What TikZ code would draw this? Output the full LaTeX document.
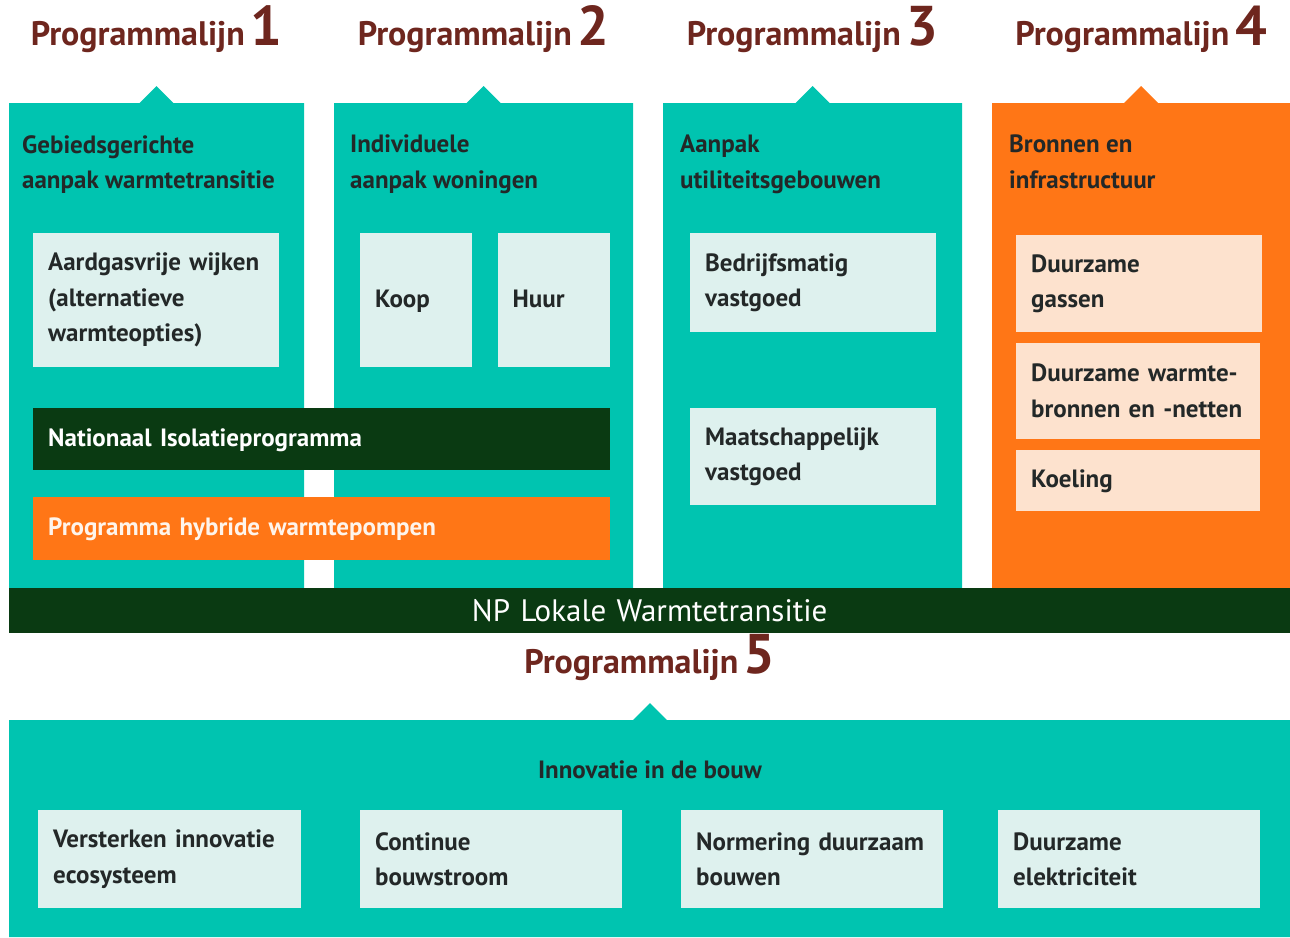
\documentclass[tikz,border=0pt]{standalone}
\usepackage{fontspec}
\setmainfont{PT Sans}
\usetikzlibrary{positioning}

\definecolor{pteal}{RGB}{0,196,176}
\definecolor{porange}{RGB}{255,118,22}
\definecolor{pdark}{RGB}{10,58,18}
\definecolor{plicht}{RGB}{222,241,238}
\definecolor{ppeach}{RGB}{253,226,206}
\definecolor{pbruin}{RGB}{110,38,30}
\definecolor{pinkt}{RGB}{35,40,40}

\begin{document}
\begin{tikzpicture}[x=1pt,y=-1pt,text=pinkt,
                    font=\bfseries\fontsize{25}{35.5}\selectfont]

  \tikzstyle{kop}=[anchor=base,inner sep=0pt,text=pbruin,
                   font=\bfseries\fontsize{34}{34}\selectfont]
  \tikzstyle{sub}=[anchor=north west,align=left,inner sep=0pt]
  \tikzstyle{vak}=[anchor=north west,fill=plicht,align=left,
                   inner xsep=15pt,inner ysep=0pt]
  \tikzstyle{balk}=[vak,text=white,fill=pdark]

  \useasboundingbox (0,0) rectangle (1290,937);

  % de vier kolommen met kop
  \foreach \l/\r/\n/\c in {9/304/1/pteal,334/633/2/pteal,
                           663/962/3/pteal,992/1290/4/porange} {
    \pgfmathsetmacro\m{(\l+\r)/2}
    \fill[\c] (\l,103) -- (\m-17,103) -- (\m,86) -- (\m+17,103)
              -- (\r,103) -- (\r,588) -- (\l,588) -- cycle;
    \node[kop] (pl\n) at (\m,45)
      {Programmalijn\,{\fontsize{56}{56}\selectfont\n}};
  }

  \node[sub] (sub1) at (22,135) {Gebiedsgerichte\\aanpak warmtetransitie};
  \node[sub] (sub2) at (350,135) {Individuele\\aanpak woningen};
  \node[sub] (sub3) at (680,135) {Aanpak\\utiliteitsgebouwen};
  \node[sub] (sub4) at (1009,135) {Bronnen en\\infrastructuur};

  \node[vak,text width=216pt,minimum height=134pt] (wijken) at (33,233)
    {Aardgasvrije wijken\\(alternatieve\\warmteopties)};
  \node[vak,text width=82pt,minimum height=134pt] (koop) at (360,233) {\strut Koop};
  \node[vak,text width=82pt,minimum height=134pt] (huur) [right=25pt of koop] {\strut Huur};

  \node[balk,text width=547pt,minimum height=62pt] (isolatie) at (33,408)
    {\strut Nationaal Isolatieprogramma};
  \node[balk,fill=porange,text=ppeach!40,text width=547pt,minimum height=63pt]
    (hybride) at (33,497) {\strut Programma hybride warmtepompen};

  \node[vak,text width=216pt,minimum height=99pt] (bedrijf) at (690,233)
    {Bedrijfsmatig\\vastgoed};
  \node[vak,text width=216pt,minimum height=97pt] (maatsch) at (690,408)
    {Maatschappelijk\\vastgoed};

  \node[vak,fill=ppeach,text width=216pt,minimum height=97pt] (gassen) at (1016,235)
    {Duurzame\\gassen};
  \node[vak,fill=ppeach,text width=214pt,minimum height=96pt] (warmte) [below=10pt of gassen.south west,anchor=north west]
    {Duurzame warmte-\\bronnen en -netten};
  \node[vak,fill=ppeach,text width=214pt,minimum height=61pt] (koeling) [below=11pt of warmte.south west,anchor=north west]
    {\strut Koeling};

  % onderste deel
  \node[balk,text width=1251pt,minimum height=45pt,align=center,
        font=\mdseries\fontsize{31}{31}\selectfont] (np) at (9,588)
    {NP Lokale Warmtetransitie};

  \fill[pteal] (9,720) -- (633,720) -- (650,703) -- (667,720) -- (1290,720)
               -- (1290,937) -- (9,937) -- cycle;
  \node[kop] (pl5) at (650,673) {Programmalijn\,{\fontsize{56}{56}\selectfont 5}};

  \node (innovatie) at (650,771) {\strut Innovatie in de bouw};

  \node[vak,text width=233pt,minimum height=98pt] (eco) at (38,810)
    {Versterken innovatie\\ecosysteem};
  \node[vak,text width=232pt,minimum height=98pt] (stroom) at (360,810)
    {Continue\\bouwstroom};
  \node[vak,text width=232pt,minimum height=98pt] (norm) at (681,810)
    {Normering duurzaam\\bouwen};
  \node[vak,text width=232pt,minimum height=98pt] (elek) at (998,810)
    {Duurzame\\elektriciteit};

\end{tikzpicture}
\end{document}
